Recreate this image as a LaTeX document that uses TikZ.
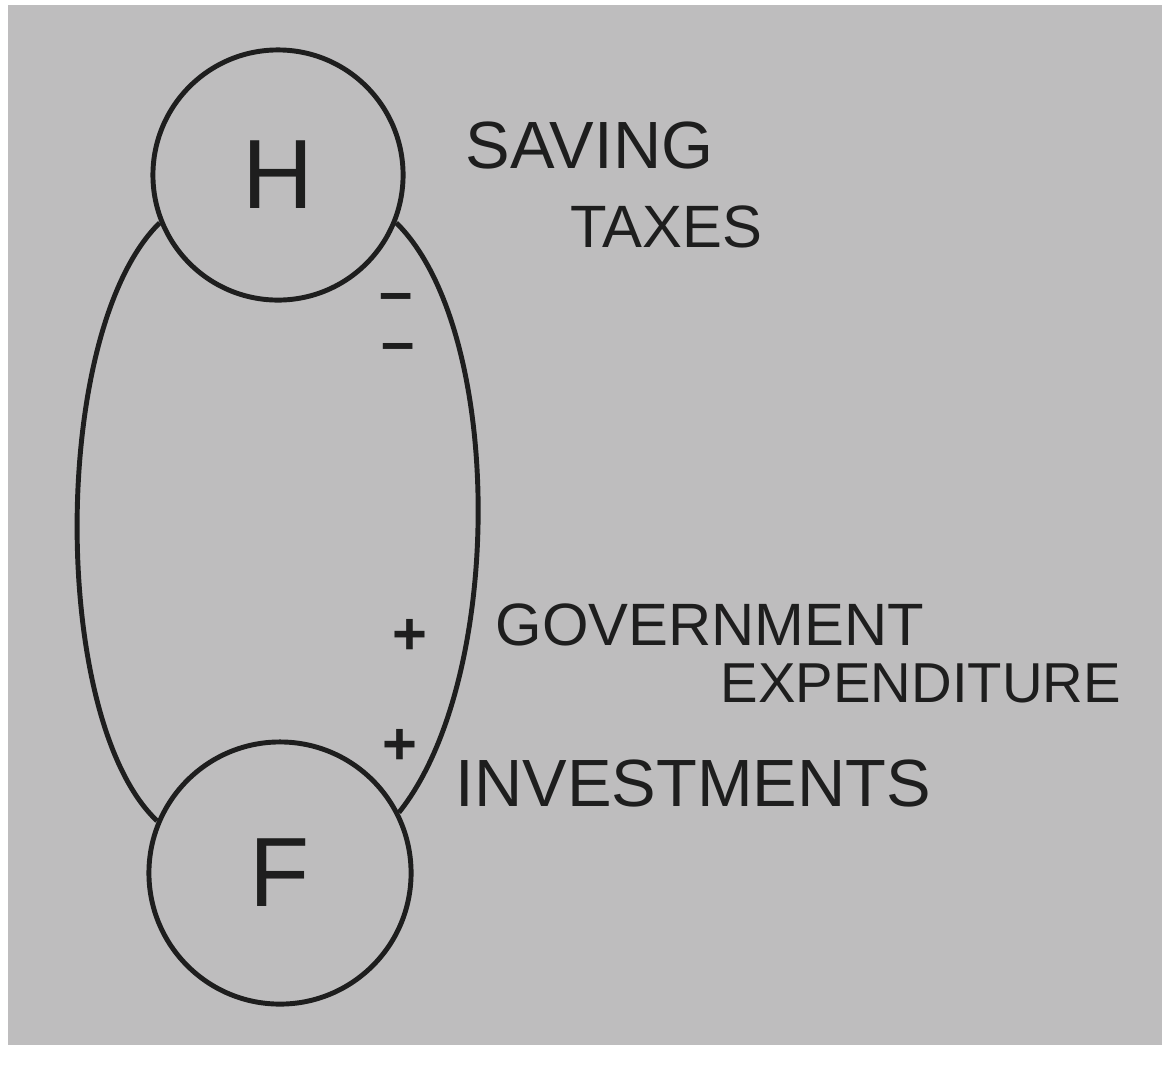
\documentclass[tikz,border=0pt]{standalone}
\usepackage{fontspec}
\setmainfont{Liberation Sans}
\usetikzlibrary{calc}

\definecolor{paper}{RGB}{190,189,190}
\definecolor{ink}{RGB}{30,30,30}

\tikzset{
  pen/.style={draw=ink, line width=1.4pt},
  sector/.style={circle, pen, inner sep=0pt, font=\fontsize{28}{30}\selectfont, text=ink},
  word/.style={anchor=west, inner sep=0pt, text=ink, font=\fontsize{#1}{#1}\selectfont},
  word/.default=17,
  sign/.style={inner sep=0pt, text=ink, text height=1ex, text depth=0pt,
    font=\fontsize{17}{17}\selectfont\bfseries}
}

\begin{document}
\begin{tikzpicture}[x=0.01cm, y=-0.01cm]
    % page
    \useasboundingbox (0,0) rectangle (1168,1075);
    \fill[white] (0,0) rectangle (1168,1075);
    \fill[paper] (8,5) rectangle (1162,1045);

    % households and firms
    \node[sector, minimum size=2.5cm] (H) at (278,175) {H};
    \node[sector, minimum size=2.62cm] (F) at (280,873) {F};

    % flows between them
    \draw[pen] (H.202) .. controls (50,330) and (50,720) .. (F.157);
    \draw[pen] (H.338) .. controls (505,330) and (505,680) .. (F.27);

    % leakages and injections
    \node[sign] (m1) at (396,303) {–};
    \node[sign] (m2) at (398,353) {–};
    \node[sign] (p1) at (410,645) {+};
    \node[sign] (p2) at (400,755) {+};

    \node[word=19] (saving) at (465,145) {SAVING};
    \node[word] (taxes) at (570,227) {TAXES};
    \node[word] (gov) at (495,625) {GOVERNMENT};
    \node[word=16] (exp) at (720,683) {EXPENDITURE};
    \node[word=19] (inv) at (455,783) {INVESTMENTS};
\end{tikzpicture}
\end{document}
